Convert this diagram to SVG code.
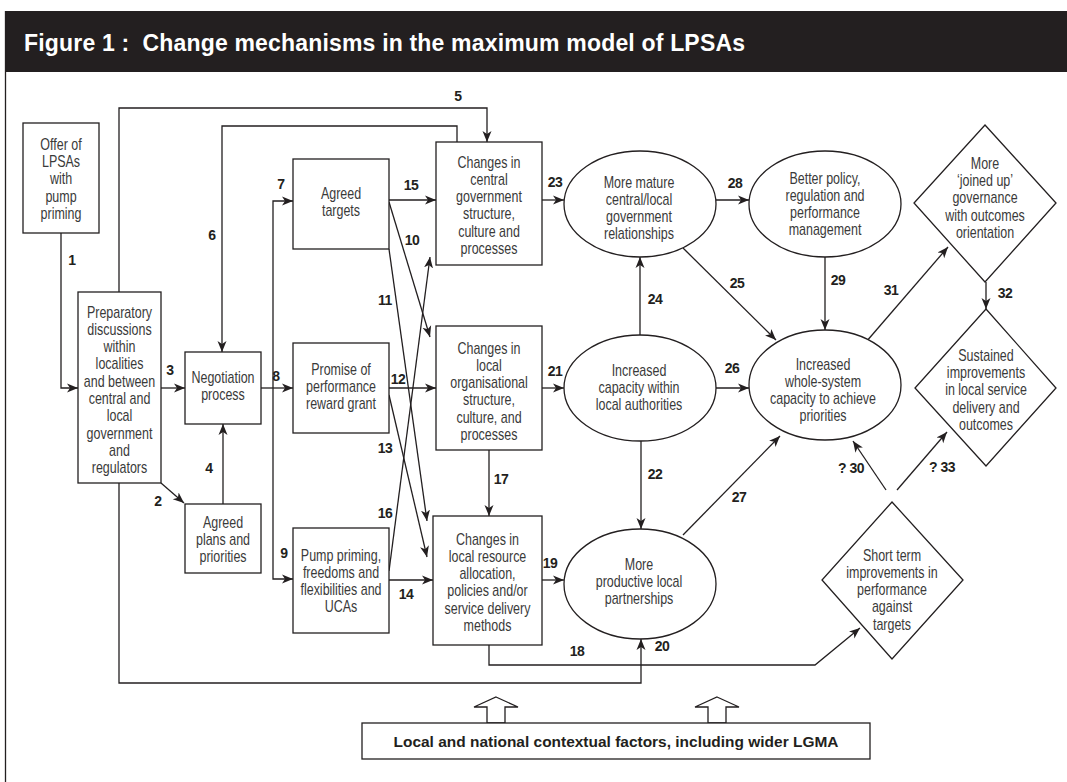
<svg xmlns="http://www.w3.org/2000/svg" width="1067" height="782" viewBox="0 0 1067 782">
<style>
.box{fill:#fff;stroke:#231f20;stroke-width:1.3}
.ln{fill:none;stroke:#231f20;stroke-width:1.3}
.ar{fill:none;stroke:#231f20;stroke-width:1.3;marker-end:url(#ah)}
.n{font-family:"Liberation Sans",Arial,sans-serif;font-size:16px;fill:#3a3a3a;text-anchor:middle}
.lb{font-family:"Liberation Sans",Arial,sans-serif;font-size:14px;font-weight:bold;fill:#231f20;text-anchor:middle;letter-spacing:-0.5px}
</style>
<defs>
<marker id="ah" markerUnits="userSpaceOnUse" markerWidth="12" markerHeight="10" refX="11" refY="5" orient="auto">
<path d="M0,0.5 L11,5 L0,9.5 L3,5 z" fill="#231f20"/>
</marker>
</defs>
<rect x="0" y="0" width="1067" height="782" fill="#fff"/>
<g id="frame">
<rect x="5" y="11" width="1062" height="61" fill="#231f20"/>
<line x1="5.5" y1="11" x2="5.5" y2="782" stroke="#231f20" stroke-width="1.3"/>
<text x="24" y="51" xml:space="preserve" font-family="'Liberation Sans',Arial,sans-serif" font-size="23" font-weight="bold" fill="#fff" textLength="721" lengthAdjust="spacing">Figure 1 :  Change mechanisms in the maximum model of LPSAs</text>
</g>
<g id="connectors">
<path class="ar" d="M61,233 V388 H78"/>
<path class="ar" d="M161,483 L184,503"/>
<path class="ar" d="M161,388 H185"/>
<path class="ar" d="M223,504 V424"/>
<path class="ar" d="M119,292 V108 H487 V142"/>
<path class="ar" d="M457,142 V126 H222 V352"/>
<path class="ar" d="M261,388 H293"/>
<path class="ar" d="M273,388 V201 H293"/>
<path class="ar" d="M273,388 V579 H293"/>
<path class="ar" d="M389,202 L430,337"/>
<path class="ar" d="M389,249 L427,521"/>
<path class="ar" d="M389,388 H436"/>
<path class="ar" d="M389,395 L427,557"/>
<path class="ar" d="M389,580 H433"/>
<path class="ar" d="M389,200 H436"/>
<path class="ar" d="M389,571 L430,257"/>
<path class="ar" d="M489,450 V516"/>
<path class="ar" d="M489,645 V665 H815 L860,628"/>
<path class="ar" d="M542,580 H564"/>
<path class="ar" d="M119,483 V683 H641 V639"/>
<path class="ar" d="M542,388 H564"/>
<path class="ar" d="M641,440 V529"/>
<path class="ar" d="M542,200 H564"/>
<path class="ar" d="M640,335 V257"/>
<path class="ar" d="M683,248 L776,340"/>
<path class="ar" d="M716,388 H749"/>
<path class="ar" d="M683,535 L780,436"/>
<path class="ar" d="M716,200 H749"/>
<path class="ar" d="M825,257 V330"/>
<path class="ar" d="M866,342 L948,247"/>
<path class="ar" d="M986,282 V309"/>
<path class="ar" d="M886,490 L853,441"/>
<path class="ar" d="M897,490 L947,432"/>
<polygon class="box" points="496,697 518,707 505,707 505,723 487,723 487,707 474,707"/>
<polygon class="box" points="717,697 739,707 726,707 726,723 708,723 708,707 695,707"/>
</g>
<g id="labels">
<text class="lb" x="72" y="265">1</text>
<text class="lb" x="158" y="506">2</text>
<text class="lb" x="170" y="375">3</text>
<text class="lb" x="209" y="473">4</text>
<text class="lb" x="458" y="101">5</text>
<text class="lb" x="212" y="240">6</text>
<text class="lb" x="281" y="189">7</text>
<text class="lb" x="276" y="381">8</text>
<text class="lb" x="284" y="558">9</text>
<text class="lb" x="412" y="245">10</text>
<text class="lb" x="385" y="305">11</text>
<text class="lb" x="398" y="384">12</text>
<text class="lb" x="385" y="453">13</text>
<text class="lb" x="406" y="599">14</text>
<text class="lb" x="411" y="190">15</text>
<text class="lb" x="385" y="518">16</text>
<text class="lb" x="501" y="484">17</text>
<text class="lb" x="577" y="656">18</text>
<text class="lb" x="550" y="568">19</text>
<text class="lb" x="662" y="651">20</text>
<text class="lb" x="555" y="376">21</text>
<text class="lb" x="655" y="479">22</text>
<text class="lb" x="555" y="187">23</text>
<text class="lb" x="655" y="304">24</text>
<text class="lb" x="737" y="288">25</text>
<text class="lb" x="732" y="373">26</text>
<text class="lb" x="739" y="502">27</text>
<text class="lb" x="735" y="188">28</text>
<text class="lb" x="838" y="285">29</text>
<text class="lb" x="891" y="295">31</text>
<text class="lb" x="1005" y="298">32</text>
<text class="lb" x="851" y="473">? 30</text>
<text class="lb" x="942" y="472">? 33</text>
</g>
<g id="n-offer">
<rect class="box" x="23" y="123" width="76" height="110"/>
<text class="n" transform="translate(61,149.5) scale(0.78,1)"><tspan x="0">Offer of</tspan><tspan x="0" dy="17.5">LPSAs</tspan><tspan x="0" dy="17.5">with</tspan><tspan x="0" dy="17.5">pump</tspan><tspan x="0" dy="17.5">priming</tspan></text>
</g>
<g id="n-prep">
<rect class="box" x="78" y="292" width="83" height="191"/>
<text class="n" transform="translate(119.5,317.5) scale(0.78,1)"><tspan x="0">Preparatory</tspan><tspan x="0" dy="17.3">discussions</tspan><tspan x="0" dy="17.3">within</tspan><tspan x="0" dy="17.3">localities</tspan><tspan x="0" dy="17.3">and between</tspan><tspan x="0" dy="17.3">central and</tspan><tspan x="0" dy="17.3">local</tspan><tspan x="0" dy="17.3">government</tspan><tspan x="0" dy="17.3">and</tspan><tspan x="0" dy="17.3">regulators</tspan></text>
</g>
<g id="n-negotiation">
<rect class="box" x="185" y="352" width="76" height="72"/>
<text class="n" transform="translate(223,383) scale(0.78,1)"><tspan x="0">Negotiation</tspan><tspan x="0" dy="17.3">process</tspan></text>
</g>
<g id="n-plans">
<rect class="box" x="185" y="504" width="76" height="69"/>
<text class="n" transform="translate(223,527.5) scale(0.78,1)"><tspan x="0">Agreed</tspan><tspan x="0" dy="17.3">plans and</tspan><tspan x="0" dy="17.3">priorities</tspan></text>
</g>
<g id="n-targets">
<rect class="box" x="293" y="159" width="96" height="90"/>
<text class="n" transform="translate(341,198.5) scale(0.78,1)"><tspan x="0">Agreed</tspan><tspan x="0" dy="17.3">targets</tspan></text>
</g>
<g id="n-promise">
<rect class="box" x="293" y="343" width="96" height="90"/>
<text class="n" transform="translate(341,374.5) scale(0.78,1)"><tspan x="0">Promise of</tspan><tspan x="0" dy="17.3">performance</tspan><tspan x="0" dy="17.3">reward grant</tspan></text>
</g>
<g id="n-pump">
<rect class="box" x="293" y="528" width="96" height="105"/>
<text class="n" transform="translate(341,560.5) scale(0.78,1)"><tspan x="0">Pump priming,</tspan><tspan x="0" dy="17.3">freedoms and</tspan><tspan x="0" dy="17.3">flexibilities and</tspan><tspan x="0" dy="17.3">UCAs</tspan></text>
</g>
<g id="n-central">
<rect class="box" x="436" y="142" width="106" height="123"/>
<text class="n" transform="translate(489,167.5) scale(0.78,1)"><tspan x="0">Changes in</tspan><tspan x="0" dy="17.3">central</tspan><tspan x="0" dy="17.3">government</tspan><tspan x="0" dy="17.3">structure,</tspan><tspan x="0" dy="17.3">culture and</tspan><tspan x="0" dy="17.3">processes</tspan></text>
</g>
<g id="n-localorg">
<rect class="box" x="436" y="326" width="106" height="124"/>
<text class="n" transform="translate(489,353.5) scale(0.78,1)"><tspan x="0">Changes in</tspan><tspan x="0" dy="17.3">local</tspan><tspan x="0" dy="17.3">organisational</tspan><tspan x="0" dy="17.3">structure,</tspan><tspan x="0" dy="17.3">culture, and</tspan><tspan x="0" dy="17.3">processes</tspan></text>
</g>
<g id="n-resource">
<rect class="box" x="433" y="516" width="109" height="129"/>
<text class="n" transform="translate(487.5,544.5) scale(0.78,1)"><tspan x="0">Changes in</tspan><tspan x="0" dy="17.3">local resource</tspan><tspan x="0" dy="17.3">allocation,</tspan><tspan x="0" dy="17.3">policies and/or</tspan><tspan x="0" dy="17.3">service delivery</tspan><tspan x="0" dy="17.3">methods</tspan></text>
</g>
<g id="n-mature">
<ellipse class="box" cx="640" cy="204" rx="76" ry="53"/>
<text class="n" transform="translate(639,187.5) scale(0.78,1)"><tspan x="0">More mature</tspan><tspan x="0" dy="17.3">central/local</tspan><tspan x="0" dy="17.3">government</tspan><tspan x="0" dy="17.3">relationships</tspan></text>
</g>
<g id="n-capacity">
<ellipse class="box" cx="640" cy="388" rx="76" ry="53"/>
<text class="n" transform="translate(639,375.5) scale(0.78,1)"><tspan x="0">Increased</tspan><tspan x="0" dy="17.3">capacity within</tspan><tspan x="0" dy="17.3">local authorities</tspan></text>
</g>
<g id="n-partnerships">
<ellipse class="box" cx="640" cy="584" rx="76" ry="55"/>
<text class="n" transform="translate(639,569.5) scale(0.78,1)"><tspan x="0">More</tspan><tspan x="0" dy="17.3">productive local</tspan><tspan x="0" dy="17.3">partnerships</tspan></text>
</g>
<g id="n-policy">
<ellipse class="box" cx="825" cy="204" rx="76" ry="53"/>
<text class="n" transform="translate(825,183.5) scale(0.78,1)"><tspan x="0">Better policy,</tspan><tspan x="0" dy="17.3">regulation and</tspan><tspan x="0" dy="17.3">performance</tspan><tspan x="0" dy="17.3">management</tspan></text>
</g>
<g id="n-whole">
<ellipse class="box" cx="825" cy="385" rx="76" ry="55"/>
<text class="n" transform="translate(823,369.5) scale(0.78,1)"><tspan x="0">Increased</tspan><tspan x="0" dy="17.3">whole-system</tspan><tspan x="0" dy="17.3">capacity to achieve</tspan><tspan x="0" dy="17.3">priorities</tspan></text>
</g>
<g id="n-joined">
<polygon class="box" points="985,125 1056,203 985,282 914,203"/>
<text class="n" transform="translate(985,168.5) scale(0.78,1)"><tspan x="0">More</tspan><tspan x="0" dy="17.5">‘joined up’</tspan><tspan x="0" dy="17.5">governance</tspan><tspan x="0" dy="17.5">with outcomes</tspan><tspan x="0" dy="17.5">orientation</tspan></text>
</g>
<g id="n-sustained">
<polygon class="box" points="986,309 1056,388 986,466 915,388"/>
<text class="n" transform="translate(986,360.5) scale(0.78,1)"><tspan x="0">Sustained</tspan><tspan x="0" dy="17.5">improvements</tspan><tspan x="0" dy="17.5">in local service</tspan><tspan x="0" dy="17.5">delivery and</tspan><tspan x="0" dy="17.5">outcomes</tspan></text>
</g>
<g id="n-shortterm">
<polygon class="box" points="892,502 963,580 892,659 822,580"/>
<text class="n" transform="translate(892,560.5) scale(0.78,1)"><tspan x="0">Short term</tspan><tspan x="0" dy="17.3">improvements in</tspan><tspan x="0" dy="17.3">performance</tspan><tspan x="0" dy="17.3">against</tspan><tspan x="0" dy="17.3">targets</tspan></text>
</g>
<g id="n-context">
<rect class="box" x="362" y="723" width="508" height="36"/>
<text x="616" y="746.5" text-anchor="middle" font-family="'Liberation Sans',Arial,sans-serif" font-size="15.5" font-weight="bold" fill="#231f20" textLength="445" lengthAdjust="spacingAndGlyphs">Local and national contextual factors, including wider LGMA</text>
</g>
</svg>
